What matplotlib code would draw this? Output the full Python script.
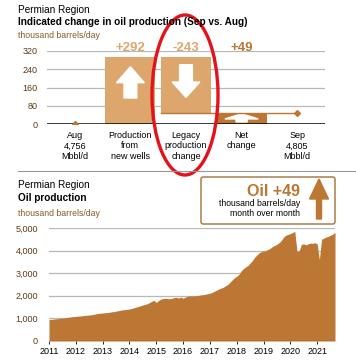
import matplotlib
matplotlib.use('Agg')
import matplotlib.pyplot as plt
from matplotlib.patches import Polygon, Ellipse, FancyBboxPatch, FancyArrow
import numpy as np

plt.rcParams['font.family'] = ['Liberation Sans', 'DejaVu Sans']

# waterfall data (thousand barrels/day)
steps = ['Aug\n4,756\nMbbl/d', 'Production\nfrom\nnew wells', 'Legacy\nproduction\nchange',
         'Net\nchange', 'Sep\n4,805\nMbbl/d']
new_wells = 292
legacy = -243
net = 49
step_labels = ['+292', '-243', '+49']
top_yticks = [0, 80, 160, 240, 320]

# monthly Permian oil production, Jan 2011 - Sep 2021
production = [
    950, 960, 970, 980, 990, 1000, 1010, 1020, 1040, 1050, 1070, 1080,
    1090, 1100, 1110, 1120, 1130, 1140, 1150, 1160, 1180, 1200, 1220, 1230,
    1240, 1250, 1260, 1270, 1290, 1300, 1320, 1340, 1360, 1380, 1390, 1400,
    1420, 1440, 1470, 1500, 1530, 1560, 1590, 1620, 1650, 1700, 1760, 1800,
    1700, 1790, 1850, 1880, 1890, 1880, 1870, 1890, 1920, 1930, 1900, 1940,
    1890, 1940, 1980, 1990, 2000, 1990, 2010, 2020, 2040, 2050, 2070, 2090,
    2110, 2150, 2200, 2250, 2300, 2340, 2380, 2440, 2500, 2600, 2700, 2800,
    2860, 2950, 3100, 3200, 3280, 3340, 3450, 3550, 3700, 3800, 3900, 3950,
    3980, 4000, 4050, 4100, 4180, 4230, 4280, 4350, 4450, 4600, 4680, 4720,
    4750, 4800, 4850, 3950, 4000, 4280, 4300, 4250, 4300, 4330, 4320, 4350,
    4300, 3600, 4500, 4550, 4600, 4630, 4680, 4730, 4805,
]
years = list(range(2011, 2022))

TAN = '#dca66c'
BROWN = '#bb7733'
DARK = '#5a3a18'
LABEL_BROWN = '#8a5a26'

fig = plt.figure(figsize=(3.56, 3.63), dpi=100)
W, H = 356, 363


def fx(px):
    return px / W


def fy(py):
    return 1 - py / H


# ---------------- top: waterfall ----------------
fig.text(fx(18), fy(10), 'Permian Region', fontsize=7.2, va='center')
fig.text(fx(18), fy(22), 'Indicated change in oil production (Sep vs. Aug)',
         fontsize=7.2, fontweight='bold', va='center')
fig.text(fx(18), fy(36), 'thousand barrels/day', fontsize=6.3, color=LABEL_BROWN, va='center')

ax = fig.add_axes([fx(47), fy(124), fx(325) - fx(47), (124 - 51) / H])
ax.set_xlim(-0.5, 4.5)
ax.set_ylim(0, 320)
for s in ax.spines.values():
    s.set_visible(False)
ax.set_yticks(top_yticks)
ax.set_yticklabels([str(v) for v in top_yticks], fontsize=6.5, color=DARK)
ax.tick_params(axis='y', length=0, pad=7)
ax.yaxis.grid(True, color='#b8b8b8', lw=0.9)
ax.set_axisbelow(True)
ax.axhline(0, color='black', lw=1.8, zorder=4)
ax.set_xticks(range(len(steps)))
ax.set_xticklabels(steps, fontsize=6.5, linespacing=1.2)
ax.tick_params(axis='x', length=0, pad=5)

bw = 0.9
ax.bar(1, new_wells, width=bw, color=TAN, zorder=3)
ax.bar(2, -legacy, bottom=new_wells + legacy, width=bw, color=TAN, zorder=3)
ax.bar(3, net, width=bw, color=BROWN, zorder=3)

# connector lines and end markers
ax.plot([0, 1 - bw / 2], [0, 0], color=BROWN, lw=1.0, zorder=5)
ax.plot([2 - bw / 2, 4], [net, net], color=BROWN, lw=1.0, zorder=5)
ax.plot([0], [0], marker='D', ms=3, color=BROWN, zorder=6)
ax.plot([4], [net], marker='D', ms=3, color=BROWN, zorder=6)


def block_arrow(x, y0, y1, ybase, head_w, shaft_w):
    pts = [(x - shaft_w / 2, y0), (x + shaft_w / 2, y0), (x + shaft_w / 2, ybase),
           (x + head_w / 2, ybase), (x, y1), (x - head_w / 2, ybase), (x - shaft_w / 2, ybase)]
    ax.add_patch(Polygon(pts, closed=True, color='white', zorder=4))


block_arrow(1, 0.39 * new_wells, 0.86 * new_wells, 0.62 * new_wells, 0.5, 0.23)
block_arrow(2, 0.89 * new_wells, 0.40 * new_wells, 0.63 * new_wells, 0.5, 0.23)
block_arrow(3, 0.18 * net, 0.92 * net, 0.45 * net, 0.6, 0.2)

ax.text(1, 308, step_labels[0], ha='center', va='bottom', fontsize=9.5,
        fontweight='bold', color=TAN, clip_on=False)
ax.text(2, 308, step_labels[1], ha='center', va='bottom', fontsize=9.5,
        fontweight='bold', color=TAN, clip_on=False)
ax.text(3, 308, step_labels[2], ha='center', va='bottom', fontsize=9.5,
        fontweight='bold', color=BROWN, clip_on=False)

# separator
fig.add_artist(plt.Line2D([fx(18), 1], [fy(171), fy(171)], color='#999999', lw=0.8))

# ---------------- bottom: area chart ----------------
fig.text(fx(18), fy(185), 'Permian Region', fontsize=7.2, va='center')
fig.text(fx(18), fy(198), 'Oil production', fontsize=7.2, fontweight='bold', va='center')
fig.text(fx(18), fy(213), 'thousand barrels/day', fontsize=6.3, color=LABEL_BROWN, va='center')

t = 2011 + np.arange(len(production)) / 12
ax2 = fig.add_axes([fx(49), fy(341), fx(335) - fx(49), (341 - 228) / H])
ax2.set_xlim(2011, t[-1])
ax2.set_ylim(0, 5000)
ax2.fill_between(t, production, color=BROWN, lw=0, zorder=3)
for s in ax2.spines.values():
    s.set_visible(False)
ax2.axhline(0, color='black', lw=0.8, zorder=4)
ax2.set_yticks(range(0, 5001, 1000))
ax2.set_yticklabels([f'{v:,}' for v in range(0, 5001, 1000)], fontsize=6.5, color=DARK)
ax2.tick_params(axis='y', length=0, pad=8)
ax2.yaxis.grid(True, color='#b8b8b8', lw=0.9)
ax2.set_axisbelow(True)
ax2.set_xticks(years)
ax2.set_xticklabels([str(y) for y in years], fontsize=6.5)
ax2.tick_params(axis='x', length=2.5, width=0.6, pad=1.5, direction='out')

# callout box
box = FancyBboxPatch((fx(201), fy(224)), fx(335) - fx(201), (224 - 177) / H,
                     boxstyle='round,pad=0,rounding_size=0.006',
                     transform=fig.transFigure, fc='white', ec='#a0713c', lw=1.0)
fig.add_artist(box)
fig.text(fx(300), fy(192), 'Oil +49', ha='right', va='center', fontsize=11.5,
         fontweight='bold', color=BROWN)
fig.text(fx(300), fy(204), 'thousand barrels/day', ha='right', va='center', fontsize=6.2)
fig.text(fx(300), fy(214), 'month over month', ha='right', va='center', fontsize=6.2)
arr = FancyArrow(fx(319), fy(219), 0, (219 - 179) / H, width=fx(5),
                 head_width=fx(19), head_length=20 / H, length_includes_head=True,
                 transform=fig.transFigure, color=BROWN)
fig.add_artist(arr)

# red highlight ellipse
fig.add_artist(Ellipse((fx(185), fy(95)), fx(66), 160 / H, transform=fig.transFigure,
                       fill=False, ec='#e3121b', lw=2.4))

fig.savefig('out.png', dpi=100)
